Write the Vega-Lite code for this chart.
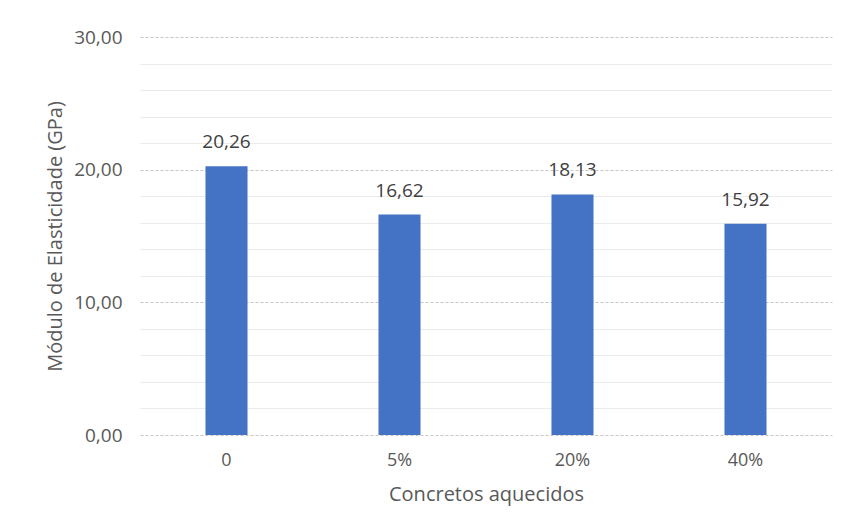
{
  "$schema": "https://vega.github.io/schema/vega-lite/v6.json",
  "width": 692,
  "height": 398,
  "autosize": {"type": "none"},
  "padding": {"left": 140, "top": 37, "right": 9, "bottom": 96},
  "background": "white",
  "config": {
    "locale": {"number": {"decimal": ",", "thousands": ".", "grouping": [3], "currency": ["R$", ""]}},
    "view": {"stroke": null},
    "font": "Open Sans"
  },
  "data": {
    "values": [
      {"grupo": "0", "modulo": 20.26},
      {"grupo": "5%", "modulo": 16.62},
      {"grupo": "20%", "modulo": 18.13},
      {"grupo": "40%", "modulo": 15.92}
    ]
  },
  "encoding": {
    "x": {
      "field": "grupo",
      "type": "nominal",
      "sort": null,
      "scale": {"paddingInner": 0.757, "paddingOuter": 0.3785},
      "axis": {
        "title": "Concretos aquecidos",
        "labelAngle": 0,
        "domain": false,
        "ticks": false,
        "labelPadding": 16,
        "labelFontSize": 18,
        "labelColor": "#595959",
        "labelFont": "Open Sans",
        "titleFontSize": 20,
        "titleFontWeight": "normal",
        "titleColor": "#595959",
        "titleFont": "Open Sans",
        "titlePadding": 15
      }
    }
  },
  "layer": [
    {
      "mark": {"type": "bar", "color": "#4472C4"},
      "encoding": {
        "y": {
          "field": "modulo",
          "type": "quantitative",
          "scale": {"domain": [0, 30]},
          "axis": {
            "title": "Módulo de Elasticidade (GPa)",
            "orient": "left",
            "values": [0, 10, 20, 30],
            "format": ".2f",
            "domain": false,
            "ticks": false,
            "labelPadding": 18,
            "labelFontSize": 19,
            "labelColor": "#595959",
            "labelFont": "Open Sans",
            "grid": true,
            "gridColor": "#c6c6c6",
            "gridDash": [3, 2],
            "gridWidth": 1,
            "titleFontSize": 20,
            "titleFontWeight": "normal",
            "titleColor": "#595959",
            "titleFont": "Open Sans",
            "titlePadding": 8
          }
        }
      }
    },
    {
      "mark": {"type": "text", "baseline": "alphabetic", "dy": -18, "fontSize": 19, "color": "#404040", "font": "Open Sans"},
      "encoding": {
        "y": {
          "field": "modulo",
          "type": "quantitative",
          "scale": {"domain": [0, 30]},
          "axis": {
            "orient": "right",
            "title": null,
            "values": [2, 4, 6, 8, 12, 14, 16, 18, 22, 24, 26, 28],
            "labels": false,
            "ticks": false,
            "domain": false,
            "grid": true,
            "gridColor": "#ebebeb",
            "gridWidth": 1
          }
        },
        "text": {"field": "modulo", "type": "quantitative", "format": ".2f"}
      }
    }
  ],
  "resolve": {"axis": {"y": "independent"}}
}
